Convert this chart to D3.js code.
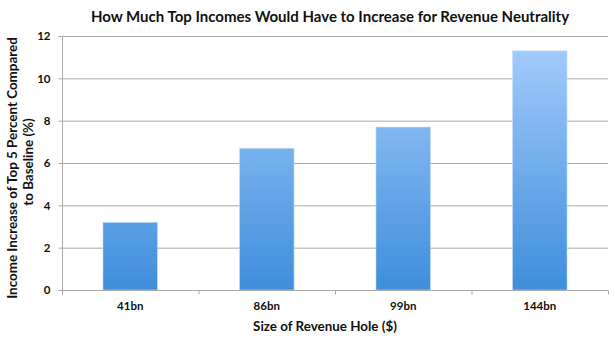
<!DOCTYPE html>
<html><head><meta charset="utf-8">
<script src="https://cdn.jsdelivr.net/npm/d3@7"></script>
<style>body{margin:0;background:#fff}svg{display:block}text{font-family:Lato,"Open Sans",sans-serif;font-weight:bold;fill:#111}</style>
</head><body>
<svg id="c" width="615" height="339"></svg>
<script>
const categories = ["41bn","86bn","99bn","144bn"];
const values = [3.2, 6.7, 7.7, 11.3];
const yTicks = [0,2,4,6,8,10,12];
const title = "How Much Top Incomes Would Have to Increase for Revenue Neutrality";
const xTitle = "Size of Revenue Hole ($)";
const yTitle = ["Income Increase of Top 5 Percent Compared","to Baseline (%)"];

const svg = d3.select("#c");
const m = {l:62, r:7, t:36, b:49};
const W = 615, H = 339;
const x = d3.scaleBand().domain(categories).range([m.l, W-m.r]).paddingInner(0.6).paddingOuter(0.3);
const y = d3.scaleLinear().domain([0,12]).range([H-m.b, m.t]);

const defs = svg.append("defs");
const g = defs.append("linearGradient").attr("id","bg").attr("x1",0).attr("x2",0).attr("gradientUnits","userSpaceOnUse")
  .attr("y1", y(12)).attr("y2", y(0));
g.append("stop").attr("offset","0%").attr("stop-color","#a8cdfd");
g.append("stop").attr("offset","100%").attr("stop-color","#3e8edb");

// gridlines
svg.append("g").selectAll("line").data(yTicks.filter(d=>d>0)).join("line")
  .attr("x1", m.l).attr("x2", W-m.r).attr("y1", d=>y(d)+0.5).attr("y2", d=>y(d)+0.5)
  .attr("stroke","#a9a9a9").attr("stroke-width",1);

// bars
svg.append("g").selectAll("rect").data(values).join("rect")
  .attr("x",(d,i)=>x(categories[i])).attr("width",x.bandwidth())
  .attr("y",d=>y(d)).attr("height",d=>y(0)-y(d))
  .attr("fill","url(#bg)").attr("stroke","#cfe2fb").attr("stroke-width",0.6);

// y axis
const ya = svg.append("g").attr("transform",`translate(${m.l+0.5},0)`)
  .call(d3.axisLeft(y).tickValues(yTicks).tickSize(4).tickPadding(8));
ya.select(".domain").attr("stroke","#a9a9a9").attr("d",`M-4,${y(12)+0.5}H0V${y(0)+0.5}`);
ya.selectAll(".tick line").attr("stroke","#a9a9a9");
ya.selectAll(".tick text").style("font-family","Lato").style("font-weight","bold").style("font-size","11.5px").attr("fill","#111");

// x axis
const xa = svg.append("g").attr("transform",`translate(0,${y(0)+0.5})`);
xa.append("line").attr("x1",m.l).attr("x2",W-m.r).attr("stroke","#a9a9a9");
const bounds = d3.range(categories.length+1).map(i=>m.l + i*(W-m.r-m.l)/categories.length);
xa.selectAll("line.t").data(bounds).join("line").attr("class","t")
  .attr("x1",d=>d+0.5).attr("x2",d=>d+0.5).attr("y1",0).attr("y2",4).attr("stroke","#a9a9a9");
xa.selectAll("text").data(categories).join("text")
  .attr("x",d=>x(d)+x.bandwidth()/2).attr("y",19).attr("text-anchor","middle")
  .style("font-size","11.5px").text(d=>d);

// titles
svg.append("text").attr("x",330).attr("y",22).attr("text-anchor","middle").style("font-size","15px").text(title);
svg.append("text").attr("x",325).attr("y",331).attr("text-anchor","middle").style("font-size","13.4px").text(xTitle);
svg.append("g").attr("transform","translate(0,168) rotate(-90)").selectAll("text").data(yTitle).join("text")
  .attr("x",(d,i)=>i*6).attr("y",(d,i)=>17+i*16).attr("text-anchor","middle").style("font-size","13.4px").text(d=>d);
</script>
</body></html>
